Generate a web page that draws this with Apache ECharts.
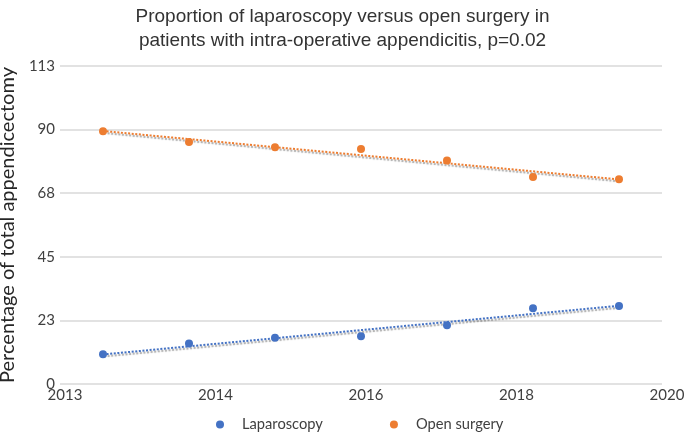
<!DOCTYPE html>
<html>
<head>
<meta charset="utf-8">
<script src="https://cdn.jsdelivr.net/npm/echarts@6/dist/echarts.min.js"></script>
<style>
  html, body { margin: 0; padding: 0; background: #fff; }
  #chart { width: 685px; height: 435px; }
</style>
</head>
<body>
<div id="chart"></div>
<script>
// ---- data ----
const years = [2013, 2014, 2015, 2016, 2017, 2018, 2019];
const laparoscopy = [10.6, 14.4, 16.4, 17.0, 20.9, 26.9, 27.7];
const openSurgery = [89.8, 86.0, 84.1, 83.5, 79.4, 73.6, 72.8];
// trendline end points at first and last year
const trendYears = [2013, 2019];
const lapTrend = [10.5, 27.8];
const openTrend = [89.9, 72.7];
// axis ticks
const xTickValues = [2012.5, 2014.25, 2016, 2017.75, 2019.5];
const xTickLabels = ['2013', '2014', '2016', '2018', '2020'];
const yTickLabels = ['0', '23', '45', '68', '90', '113'];

const blue = '#4472C4';
const orange = '#ED7D31';
const font = 'Lato, "Open Sans", sans-serif';

const zip = (xs, ys) => xs.map((x, i) => [x, ys[i]]);

const trendStyle = (color) => ({
  color: color,
  width: 2,
  type: [2, 1.6],
  shadowColor: 'rgba(0,0,0,0.35)',
  shadowOffsetX: 1,
  shadowOffsetY: 2,
  shadowBlur: 1
});

const chart = echarts.init(document.getElementById('chart'), null, { renderer: 'canvas' });
chart.setOption({
  animation: false,
  backgroundColor: '#fff',
  title: {
    text: 'Proportion of laparoscopy versus open surgery in\npatients with intra-operative appendicitis, p=0.02',
    left: 'center',
    top: 0,
    textStyle: {
      fontFamily: '"Liberation Sans", Arial, sans-serif',
      fontSize: 19,
      fontWeight: 'normal',
      color: '#333',
      lineHeight: 24
    }
  },
  legend: {
    bottom: -2,
    left: 211,
    itemGap: 67,
    itemWidth: 8,
    itemHeight: 8,
    icon: 'circle',
    textStyle: { fontFamily: font, fontSize: 14.7, color: '#404040', padding: [0, 0, 0, 13] },
    data: ['Laparoscopy', 'Open surgery']
  },
  grid: { left: 60, right: 23, top: 66, bottom: 51, outerBoundsMode: 'none', containLabel: false },
  xAxis: {
    type: 'value',
    min: xTickValues[0],
    max: xTickValues[xTickValues.length - 1],
    splitLine: { show: false },
    axisLine: { show: false },
    axisTick: { show: false },
    axisLabel: {
      customValues: xTickValues,
      formatter: (v) => xTickLabels[xTickValues.indexOf(v)] ?? '',
      fontFamily: font,
      fontSize: 15,
      color: '#404040',
      margin: 4,
      padding: [0, 0, 0, 10]
    }
  },
  yAxis: {
    type: 'value',
    min: 0,
    max: 113,
    interval: 22.6,
    name: 'Percentage of total appendicectomy',
    nameLocation: 'middle',
    nameGap: 31,
    nameTextStyle: { fontFamily: font, fontSize: 20, color: '#262626' },
    axisLine: { show: false },
    axisTick: { show: false },
    splitLine: { lineStyle: { color: '#d9d9d9', width: 1.5 } },
    axisLabel: {
      formatter: (v) => yTickLabels[Math.round(v / 22.6)] ?? '',
      fontFamily: font,
      fontSize: 15,
      color: '#404040',
      margin: 5
    }
  },
  series: [
    {
      name: 'Laparoscopy',
      type: 'scatter',
      data: zip(years, laparoscopy),
      symbolSize: 8,
      itemStyle: { color: blue, opacity: 1 },
      z: 3
    },
    {
      name: 'Open surgery',
      type: 'scatter',
      data: zip(years, openSurgery),
      symbolSize: 8,
      itemStyle: { color: orange, opacity: 1 },
      z: 3
    },
    {
      name: 'lapTrend',
      type: 'line',
      data: zip(trendYears, lapTrend),
      symbol: 'none',
      lineStyle: trendStyle(blue),
      silent: true,
      z: 2
    },
    {
      name: 'openTrend',
      type: 'line',
      data: zip(trendYears, openTrend),
      symbol: 'none',
      lineStyle: trendStyle(orange),
      silent: true,
      z: 2
    }
  ]
});
</script>
</body>
</html>
